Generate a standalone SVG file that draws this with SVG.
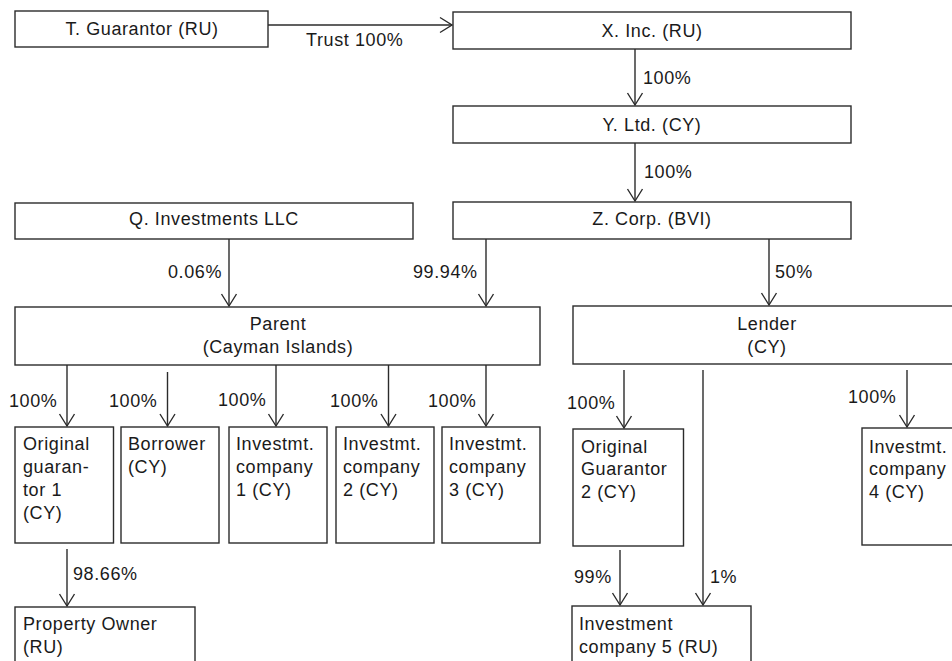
<svg xmlns="http://www.w3.org/2000/svg" width="952" height="661" viewBox="0 0 952 661">
<defs>
<marker id="arr" markerUnits="userSpaceOnUse" markerWidth="20" markerHeight="20" viewBox="-14 -10 16 20" refX="0" refY="0" orient="auto">
<path d="M-12,-7.5 L0,0 L-12,7.5" fill="none" stroke="#2b2b2b" stroke-width="1.4"/>
</marker>
<style>
.b{fill:#fff;stroke:#2b2b2b;stroke-width:1.4}
.t{font-family:"Liberation Sans",Arial,sans-serif;font-size:18px;letter-spacing:0.6px;fill:#1a1a1a}
.c{text-anchor:middle}
.l{fill:none;stroke:#2b2b2b;stroke-width:1.4}
.a{fill:none;stroke:#2b2b2b;stroke-width:1.4;marker-end:url(#arr)}
</style>
</defs>
<rect width="952" height="661" fill="#fff"/>

<g id="connectors">
<line class="a" x1="268" y1="25" x2="452" y2="25"/>
<line class="a" x1="635" y1="49" x2="635" y2="105"/>
<line class="a" x1="635" y1="143" x2="635" y2="201"/>
<line class="a" x1="229" y1="239" x2="229" y2="306"/>
<line class="a" x1="486" y1="239" x2="486" y2="306"/>
<line class="a" x1="769" y1="239" x2="769" y2="305"/>
<line class="a" x1="67" y1="365" x2="67" y2="426"/>
<line class="a" x1="167.5" y1="372" x2="167.5" y2="426"/>
<line class="a" x1="276" y1="365" x2="276" y2="426"/>
<line class="a" x1="388.5" y1="365" x2="388.5" y2="426"/>
<line class="a" x1="486" y1="365" x2="486" y2="426"/>
<line class="a" x1="67" y1="549" x2="67" y2="606"/>
<line class="a" x1="624" y1="370" x2="624" y2="428"/>
<line class="a" x1="703" y1="370" x2="703" y2="605"/>
<line class="a" x1="907" y1="370" x2="907" y2="427"/>
<line class="a" x1="620" y1="550" x2="620" y2="605"/>
<g class="t">
<text x="306" y="46">Trust 100%</text>
<text x="643" y="84">100%</text>
<text x="644" y="178">100%</text>
<text x="168" y="278">0.06%</text>
<text x="413" y="278">99.94%</text>
<text x="775" y="278">50%</text>
<text x="9" y="407">100%</text>
<text x="109" y="407">100%</text>
<text x="218" y="406">100%</text>
<text x="330" y="407">100%</text>
<text x="428" y="407">100%</text>
<text x="73" y="580">98.66%</text>
<text x="567" y="409">100%</text>
<text x="848" y="403">100%</text>
<text x="574" y="583">99%</text>
<text x="710" y="583">1%</text>
</g>
</g>

<g id="t-guarantor"><rect class="b" x="15" y="11" width="253" height="36"/><text class="t c" x="142" y="35">T. Guarantor (RU)</text></g>
<g id="x-inc"><rect class="b" x="453" y="12" width="398" height="37"/><text class="t c" x="652" y="37">X. Inc. (RU)</text></g>
<g id="y-ltd"><rect class="b" x="453" y="106" width="398" height="37"/><text class="t c" x="652" y="131">Y. Ltd. (CY)</text></g>
<g id="z-corp"><rect class="b" x="453" y="202" width="398" height="37"/><text class="t c" x="652" y="225">Z. Corp. (BVI)</text></g>
<g id="q-investments"><rect class="b" x="15" y="203" width="398" height="36"/><text class="t c" x="214" y="225">Q. Investments LLC</text></g>
<g id="parent"><rect class="b" x="15" y="307" width="525" height="58"/><text class="t c" x="278" y="330">Parent</text><text class="t c" x="278" y="353">(Cayman Islands)</text></g>
<g id="lender"><rect class="b" x="573" y="306" width="390" height="58"/><text class="t c" x="767" y="330">Lender</text><text class="t c" x="767" y="353">(CY)</text></g>

<g id="original-guarantor-1"><rect class="b" x="15" y="427" width="98.5" height="116"/><text class="t" x="23" y="450">Original</text><text class="t" x="23" y="473">guaran-</text><text class="t" x="23" y="496">tor 1</text><text class="t" x="23" y="519">(CY)</text></g>
<g id="borrower"><rect class="b" x="121" y="427" width="98" height="116"/><text class="t" x="128" y="450">Borrower</text><text class="t" x="128" y="473">(CY)</text></g>
<g id="investmt-1"><rect class="b" x="229" y="427" width="98" height="116"/><text class="t" x="236" y="450">Investmt.</text><text class="t" x="236" y="473">company</text><text class="t" x="236" y="496">1 (CY)</text></g>
<g id="investmt-2"><rect class="b" x="336" y="427" width="98" height="116"/><text class="t" x="343" y="450">Investmt.</text><text class="t" x="343" y="473">company</text><text class="t" x="343" y="496">2 (CY)</text></g>
<g id="investmt-3"><rect class="b" x="442" y="427" width="98" height="116"/><text class="t" x="449" y="450">Investmt.</text><text class="t" x="449" y="473">company</text><text class="t" x="449" y="496">3 (CY)</text></g>
<g id="property-owner"><rect class="b" x="15" y="607" width="180" height="62"/><text class="t" x="23" y="630">Property Owner</text><text class="t" x="23" y="653">(RU)</text></g>

<g id="original-guarantor-2"><rect class="b" x="573" y="429" width="110.5" height="117"/><text class="t" x="581" y="453">Original</text><text class="t" x="581" y="475">Guarantor</text><text class="t" x="581" y="498">2 (CY)</text></g>
<g id="investmt-4"><rect class="b" x="862" y="428" width="100" height="117"/><text class="t" x="869" y="453">Investmt.</text><text class="t" x="869" y="475">company</text><text class="t" x="869" y="498">4 (CY)</text></g>
<g id="investment-company-5"><rect class="b" x="572" y="606" width="179" height="62"/><text class="t" x="579" y="630">Investment</text><text class="t" x="579" y="653">company 5 (RU)</text></g>
</svg>
